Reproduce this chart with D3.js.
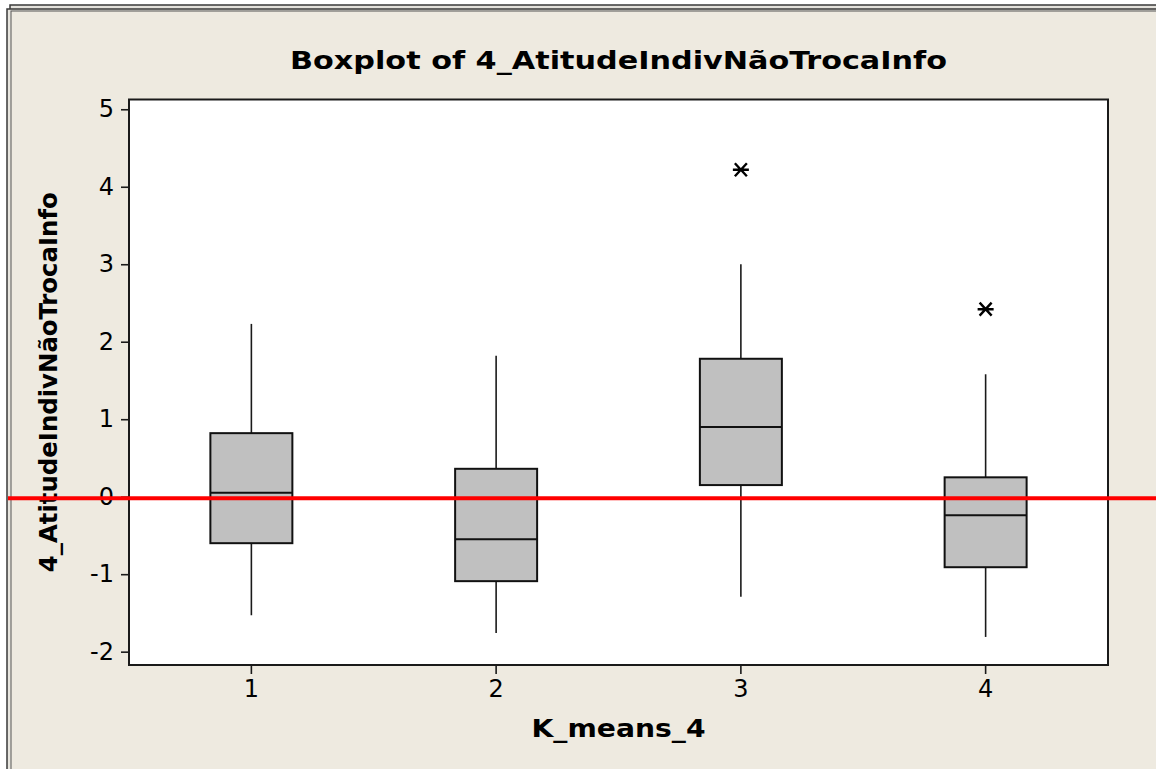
<!DOCTYPE html>
<html>
<head>
<meta charset="utf-8">
<script src="https://cdn.jsdelivr.net/npm/d3@7"></script>
<style>
  html, body { margin: 0; padding: 0; background: #ffffff; }
  svg { display: block; }
  text { font-family: "DejaVu Sans", Verdana, sans-serif; fill: #000; }
  .axis-title { font-family: "DejaVu Sans Condensed", "DejaVu Sans", sans-serif; font-weight: bold; }
</style>
</head>
<body>
<svg id="chart" width="1156" height="769"></svg>
<script>
// Groups of the K-means clustering (k = 4)
const categories = ["1", "2", "3", "4"];

// Five-number summaries per group
const whiskerLow  = [-1.53, -1.76, -1.29, -1.81];
const q1          = [-0.60, -1.09,  0.15, -0.91];
const median      = [ 0.05, -0.55,  0.90, -0.24];
const q3          = [ 0.82,  0.36,  1.78,  0.25];
const whiskerHigh = [ 2.23,  1.82,  3.00,  1.58];

// Outliers beyond the whiskers
const outlierGroups = ["3", "4"];
const outlierValues = [4.22, 2.42];

// Horizontal reference line
const referenceValue = -0.02;

const yTicks = [-2, -1, 0, 1, 2, 3, 4, 5];

const title = "Boxplot of 4_AtitudeIndivNãoTrocaInfo";
const xTitle = "K_means_4";
const yTitle = "4_AtitudeIndivNãoTrocaInfo";

const W = 1156, H = 769;
const plot = { left: 129, right: 1108, top: 99.5, bottom: 665 };

const svg = d3.select("#chart");

// Window frame and beige panel
svg.append("rect").attr("x", 0).attr("y", 0).attr("width", W).attr("height", H).attr("fill", "#ffffff");
svg.append("rect").attr("x", 10).attr("y", 5).attr("width", W + 20).attr("height", H + 20)
  .attr("fill", "#e4e2dc").attr("stroke", "#3a3a3a").attr("stroke-width", 1.5);
svg.append("rect").attr("x", 7).attr("y", 9).attr("width", W + 20).attr("height", H + 20)
  .attr("fill", "#e8e6df").attr("stroke", "#3a3a3a").attr("stroke-width", 1.5);
svg.append("rect").attr("x", 11).attr("y", 11).attr("width", W + 20).attr("height", H + 20)
  .attr("fill", "#eeeae0").attr("stroke", "#555").attr("stroke-width", 1);

// Scales
const x = d3.scaleBand().domain(categories).range([plot.left, plot.right]).paddingInner(0).paddingOuter(0);
const y = d3.scaleLinear().domain([-2.172, 5.126]).range([plot.bottom, plot.top]);
const boxW = x.bandwidth() * 0.335;
const cx = g => x(g) + x.bandwidth() / 2;

// Plot area
svg.append("rect")
  .attr("x", plot.left).attr("y", plot.top)
  .attr("width", plot.right - plot.left).attr("height", plot.bottom - plot.top)
  .attr("fill", "#ffffff");

// Axes
const yAxis = svg.append("g")
  .attr("transform", `translate(${plot.left},0)`)
  .call(d3.axisLeft(y).tickValues(yTicks).tickSize(8).tickPadding(7).tickFormat(d3.format("d")));
const xAxis = svg.append("g")
  .attr("transform", `translate(0,${plot.bottom})`)
  .call(d3.axisBottom(x).tickSize(9).tickPadding(6));
[yAxis, xAxis].forEach(a => {
  a.select(".domain").remove();
  a.selectAll(".tick line").attr("stroke", "#1a1a1a").attr("stroke-width", 1.6);
  a.selectAll(".tick text").attr("font-size", 24).attr("font-family", "DejaVu Sans").attr("fill", "#000");
});
yAxis.selectAll(".tick text").text(d => d < 0 ? "-" + Math.abs(d) : d);

// Boxes
const groups = categories.map((g, i) => ({
  g, lo: whiskerLow[i], q1: q1[i], med: median[i], q3: q3[i], hi: whiskerHigh[i]
}));
const box = svg.append("g").selectAll("g").data(groups).join("g");

box.append("line")
  .attr("x1", d => cx(d.g)).attr("x2", d => cx(d.g))
  .attr("y1", d => y(d.q3)).attr("y2", d => y(d.hi))
  .attr("stroke", "#1a1a1a").attr("stroke-width", 1.6);
box.append("line")
  .attr("x1", d => cx(d.g)).attr("x2", d => cx(d.g))
  .attr("y1", d => y(d.q1)).attr("y2", d => y(d.lo))
  .attr("stroke", "#1a1a1a").attr("stroke-width", 1.6);
box.append("rect")
  .attr("x", d => cx(d.g) - boxW / 2).attr("width", boxW)
  .attr("y", d => y(d.q3)).attr("height", d => y(d.q1) - y(d.q3))
  .attr("fill", "#c0c0c0").attr("stroke", "#111").attr("stroke-width", 2);
box.append("line")
  .attr("x1", d => cx(d.g) - boxW / 2).attr("x2", d => cx(d.g) + boxW / 2)
  .attr("y1", d => y(d.med)).attr("y2", d => y(d.med))
  .attr("stroke", "#111").attr("stroke-width", 2);

// Outlier asterisks: horizontal stroke plus two diagonals
const star = (px, py) => {
  const r = 8, dx = 6, dy = 6.5;
  return `M${px - r},${py}L${px + r},${py}` +
         `M${px - dx},${py - dy}L${px + dx},${py + dy}` +
         `M${px - dx},${py + dy}L${px + dx},${py - dy}`;
};
svg.append("g").selectAll("path")
  .data(outlierGroups.map((g, i) => ({ g, v: outlierValues[i] })))
  .join("path")
  .attr("d", d => star(cx(d.g), y(d.v)))
  .attr("stroke", "#000").attr("stroke-width", 2.4).attr("fill", "none");

// Plot frame
svg.append("rect")
  .attr("x", plot.left).attr("y", plot.top)
  .attr("width", plot.right - plot.left).attr("height", plot.bottom - plot.top)
  .attr("fill", "none").attr("stroke", "#1a1a1a").attr("stroke-width", 2);

// Titles
svg.append("text").attr("class", "axis-title")
  .attr("x", (plot.left + plot.right) / 2).attr("y", 69)
  .attr("text-anchor", "middle").attr("font-size", 25)
  .attr("textLength", 657).attr("lengthAdjust", "spacingAndGlyphs")
  .text(title);
svg.append("text").attr("class", "axis-title")
  .attr("x", (plot.left + plot.right) / 2).attr("y", 737)
  .attr("text-anchor", "middle").attr("font-size", 25)
  .attr("textLength", 174).attr("lengthAdjust", "spacingAndGlyphs")
  .text(xTitle);
svg.append("text").attr("class", "axis-title")
  .attr("transform", `translate(57,${(plot.top + plot.bottom) / 2}) rotate(-90)`)
  .attr("text-anchor", "middle").attr("font-size", 25)
  .attr("textLength", 380).attr("lengthAdjust", "spacingAndGlyphs")
  .text(yTitle);

// Reference line across the whole panel
svg.append("line")
  .attr("x1", 8).attr("x2", W)
  .attr("y1", y(referenceValue)).attr("y2", y(referenceValue))
  .attr("stroke", "#ff0000").attr("stroke-width", 4);
</script>
</body>
</html>
